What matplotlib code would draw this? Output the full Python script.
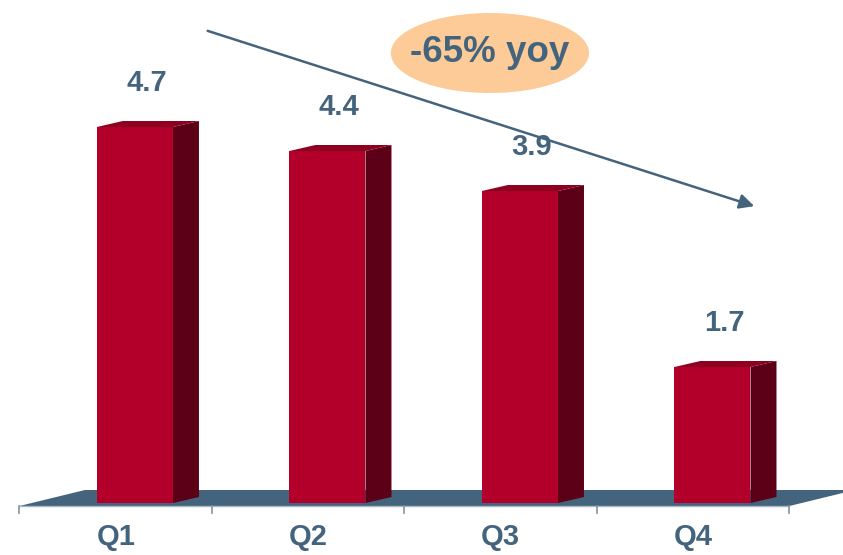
import matplotlib
matplotlib.use("Agg")
import matplotlib.pyplot as plt
from matplotlib.patches import Polygon, Ellipse

quarters = ["Q1", "Q2", "Q3", "Q4"]
values = [4.7, 4.4, 3.9, 1.7]
callout = "-65% yoy"

FRONT = "#B3002A"
SIDE = "#5C0018"
TOP = "#8E0020"
SLATE = "#44647E"

plt.rcParams["font.family"] = ["Liberation Sans", "DejaVu Sans"]

fig = plt.figure(figsize=(8.43, 5.55), dpi=100)
ax = fig.add_axes([0, 0, 1, 1])
ax.set_xlim(-0.701, 3.678)
ax.set_ylim(-0.65, 6.2875)
ax.axis("off")

width = 0.395
dx, dy = 0.135, 0.075          # bar depth
fdx, fdy = 0.34, 0.2           # floor depth
floor_y = -0.0375
x = list(range(len(quarters)))

# floor
left, right = -0.6, len(quarters) - 0.6
ax.add_patch(Polygon([(left, floor_y), (right, floor_y),
                      (right + fdx, floor_y + fdy), (left + fdx, floor_y + fdy)],
                     closed=True, facecolor=SLATE, edgecolor="none", zorder=1))
ax.plot([left, right], [floor_y, floor_y], color="#A9B7C3", lw=1, zorder=1)
for i in range(len(quarters) + 1):
    ax.plot([left + i, left + i], [floor_y, floor_y - 0.09], color="#7F94A6", lw=1.2, zorder=1)

# bars with fake 3d side/top faces
bars = ax.bar(x, values, width=width, color=FRONT, zorder=3)
for b, v in zip(bars, values):
    x0 = b.get_x()
    x1 = x0 + b.get_width()
    ax.add_patch(Polygon([(x1, 0), (x1, v), (x1 + dx, v + dy), (x1 + dx, dy)],
                         closed=True, facecolor=SIDE, edgecolor="none", zorder=2))
    ax.add_patch(Polygon([(x0, v), (x0 + dx, v + dy), (x1 + dx, v + dy), (x1, v)],
                         closed=True, facecolor=TOP, edgecolor="none", zorder=3))
    ax.text(b.get_x() + b.get_width() / 2 + 0.06, v + 0.55, f"{v:.1f}",
            ha="center", va="center", fontsize=21, fontweight="bold", color=SLATE)

for i, q in enumerate(quarters):
    ax.text(i - 0.1, -0.43, q, ha="center", va="center",
            fontsize=21, fontweight="bold", color=SLATE)

# trend arrow and callout
ax.annotate("", xy=(3.231, 3.7), xytext=(0.364, 5.9125),
            arrowprops=dict(arrowstyle="-|>", color=SLATE, lw=1.8, mutation_scale=22))
ax.add_patch(Ellipse((1.844, 5.625), 1.03, 1.0, facecolor="#FDCB97", edgecolor="none", zorder=4))
ax.text(1.844, 5.63, callout, ha="center", va="center",
        fontsize=26.5, fontweight="bold", color=SLATE, zorder=5)

fig.savefig("out.png", dpi=100)
